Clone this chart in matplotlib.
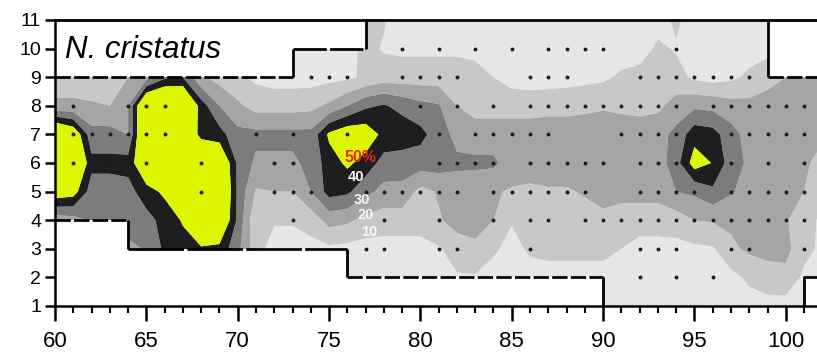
import numpy as np
import matplotlib
matplotlib.use('Agg')
import matplotlib.pyplot as plt
from matplotlib.patches import Polygon

plt.rcParams['font.family'] = ['Liberation Sans', 'DejaVu Sans']

# ---------------- data ----------------
x_grid = list(range(60, 103))   # 43 columns (distance)
y_grid = list(range(1, 12))     # 11 rows (depth)

# abundance (%) at grid nodes; columns x = 60 .. 102
z_y11 = [8,8,8,8,8,8,8,8,8,8,8,8,8,8,8,8,8, 12,11,4,4,4,4,4,4,4,4,4,4,4,4,4,4, 6,12,5,4,4,4,6, 8,8,8]
z_y10 = [8,8,8,8,8,8,8,8,8,8,8,8,8, 6,5,5,6, 13,9,8,8,8,8,7,6,4,3,3,3,4,4,4,5, 12,9,5,4,5,6,7, 12,12,12]
z_y9  = [15,15,15,16,20,26,38,40,22,16,12,8,6,6,6,7,8, 12,15,15,15,15,15,14,10,6,5,5,6,7,8,12, 14,15,14,8,6,8,12,16, 20,22,22]
z_y8  = [22,22,21,20,30,70,75,72,45,30,22,16,16,16,17,22,30, 38,41,37,33,31,20,16,16,16,16,17,17,18,19,18, 17,18,24,28,27,24,23,25, 25,25,24]
z_y7  = [70,60,34,34,30,70,75,65,46,44,33,33,33,33,33,52,58, 57,47,46,43,35,27,25,25,25,25,25,25,25,25,25, 25,26,33,46,44,34,26,25, 25,24,22]
z_y6  = [72,70,43,43,44,62,75,75,70,65,38,28,28,28,33,45,52, 46,36,35,35,35,32,32,32,25,25,25,25,25,25,25, 25,25,36,55,49.5,35,28,25, 24,22,16]
z_y5  = [58,55,35,35,36,46,52,72,75,70,38,19,20,20,30,44,42, 33,27,27,17,21,25,24,21,19,18,19,19,21,23,22, 24,24,30,32,38,31,26,25, 25,20,14]
z_y4  = [24,26,31,34,36,36,44,51,72,65,38,11,11,11,14,24,22, 17,15,15,14,19,24,24,20,11,14,15,15,16,18,17, 14,14,15,20,21,22,22,22, 21,14,8]
z_y3  = [20,20,20,20,27,31,42,46,48,47,33,14,6,6,7,8,7, 6,6,6,7,9,15,18,12,6,12,13,13,13,13,10, 7,7,7,8,9,18,22,23, 23,13,8]
z_y2  = [5,5,5,5,5,5,5,5,5,5,5,5,5,5,5,5,5, 5,5,5,5,6,9,9,5,4,5,6,6,6,6,4, 4,4,4,4,4,7,12,16, 17,8,5]
z_y1  = [4,4,4,4,4,4,4,4,4,4,4,4,4,4,4,4,4, 4,4,4,4,4,4,4,4,4,4,4,4,4,4,4, 4,4,4,4,4,4,6,6, 6,4,4]

levels = [0, 10, 20, 30, 40, 50, 200]
band_colors = ['#e6e6e6', '#c8c8c8', '#a5a5a5', '#7c7c7c', '#1e1e1e', '#def500']

# sampling stations (x positions per depth row)
st_y10 = [79, 81, 83, 85, 87, 88, 89, 90, 94]
st_y9 = [74, 75, 76, 79, 80, 81, 82, 86, 87, 88, 92, 93, 94, 95, 96, 97, 98]
st_y8 = [61, 64, 65, 66, 80, 82, 84, 86, 87, 88, 89, 90, 91, 92, 93, 94, 96, 97, 98, 99, 100, 101]
st_y7 = [61, 62, 63, 64, 65, 66, 71, 73, 76, 81, 83, 84, 85, 86, 87, 91, 92, 93, 94, 95, 96, 97, 98, 99, 100, 101]
st_y6 = [61, 63, 65, 68, 72, 73, 81, 82, 83, 84, 86, 87, 88, 89, 90, 92, 93, 94, 97, 99, 101]
st_y5 = [68, 72, 73, 74, 77, 78, 79, 80, 81, 82, 84, 85, 86, 87, 88, 89, 92, 93, 94, 95, 97, 98, 99, 100, 101]
st_y4 = [73, 78, 81, 84, 86, 87, 89, 90, 91, 92, 93, 94, 95, 96, 97, 98, 99, 100, 101]
st_y3 = [77, 78, 81, 82, 86, 92, 93, 94, 97, 98, 101]
st_y2 = [92, 94, 96]

# survey domain outline
top_outline_x = [60, 73, 73, 77, 77, 99, 99, 102]
top_outline_y = [9, 9, 10, 10, 11, 11, 9, 9]
bot_outline_x = [60, 64, 64, 76, 76, 90, 90, 101, 101, 102]
bot_outline_y = [4, 4, 3, 3, 2, 2, 1, 1, 2, 2]

contour_labels = ['50%', '40', '30', '20', '10']
label_x = [76.7, 76.5, 76.8, 77.0, 77.2]
label_y = [6.2, 5.5, 4.72, 4.18, 3.6]

# ---------------- figure ----------------
fig = plt.figure(figsize=(8.17, 3.54), dpi=100)
ax = fig.add_axes([55/817, 48/354, 762/817, 286/354])
xmax = 60 + 762/18.27
ax.set_xlim(60, xmax)
ax.set_ylim(1, 11)

rows = [z_y1, z_y2, z_y3, z_y4, z_y5, z_y6, z_y7, z_y8, z_y9, z_y10, z_y11]
Z = np.array(rows, dtype=float)
X, Y = np.meshgrid(x_grid, y_grid)
ax.contourf(X, Y, Z, levels=levels, colors=band_colors, antialiased=True, zorder=1)

# white masks outside the sampled domain
top_mask = list(zip(top_outline_x, top_outline_y)) + [(102, 11.5), (60, 11.5)]
bot_mask = list(zip(bot_outline_x, bot_outline_y)) + [(102, 0.5), (60, 0.5)]
ax.add_patch(Polygon(top_mask, closed=True, facecolor='white', edgecolor='none', zorder=2))
ax.add_patch(Polygon(bot_mask, closed=True, facecolor='white', edgecolor='none', zorder=2))

lw = 2.0
kw = dict(color='black', lw=lw, zorder=3, clip_on=False, solid_capstyle='butt', dash_capstyle='butt')
dash = (0, (5.5, 1.2))
ax.plot([60, xmax], [11, 11], **kw)
ax.plot([60, 73], [9, 9], ls=dash, **kw)
ax.plot([73, 73], [9, 10], **kw)
ax.plot([73, 77], [10, 10], ls=(0, (12, 1.2)), **kw)
ax.plot([77, 77], [10, 11], **kw)
ax.plot([99, 99], [11, 9], **kw)
ax.plot([99, xmax], [9, 9], ls=dash, **kw)
ax.plot([60, 64], [4, 4], ls=dash, **kw)
ax.plot([64, 64], [4, 3], **kw)
ax.plot([64, 76], [3, 3], ls=(0, (20, 1.2)), **kw)
ax.plot([76, 76], [3, 2], **kw)
ax.plot([76, 90], [2, 2], ls=dash, **kw)
ax.plot([90, 90], [2, 1], **kw)
ax.plot([101, 101, xmax], [1, 2, 2], **kw)

for yy, xs in [(10, st_y10), (9, st_y9), (8, st_y8), (7, st_y7), (6, st_y6),
               (5, st_y5), (4, st_y4), (3, st_y3), (2, st_y2)]:
    ax.plot(xs, [yy]*len(xs), ls='none', marker='o', ms=2.8, color='#1a1a1a', mec='none', zorder=4)

for i, (t, lx, ly) in enumerate(zip(contour_labels, label_x, label_y)):
    col = '#e8261a' if i == 0 else '#f6f6f6'
    ax.text(lx, ly, t, color=col, fontsize=11.5 if i == 0 else 10.5, fontweight='bold',
            ha='center', va='center', zorder=5)

ax.text(60.55, 9.95, 'N. cristatus', fontsize=22.5, style='italic', ha='left', va='center', zorder=5)

for s in ['top', 'right']:
    ax.spines[s].set_visible(False)
for s in ['left', 'bottom']:
    ax.spines[s].set_linewidth(1.8)
    ax.spines[s].set_zorder(6)
ax.set_xticks(range(60, 101, 5))
ax.set_xticks(range(60, 102), minor=True)
ax.set_yticks(range(1, 12))
ax.tick_params(axis='x', which='major', direction='out', length=11, width=1.8, labelsize=16, pad=7)
ax.tick_params(axis='x', which='minor', direction='out', length=5, width=1.5)
ax.tick_params(axis='y', which='major', direction='out', length=7, width=1.8, labelsize=14, pad=3)

fig.savefig('out.png', dpi=100)
